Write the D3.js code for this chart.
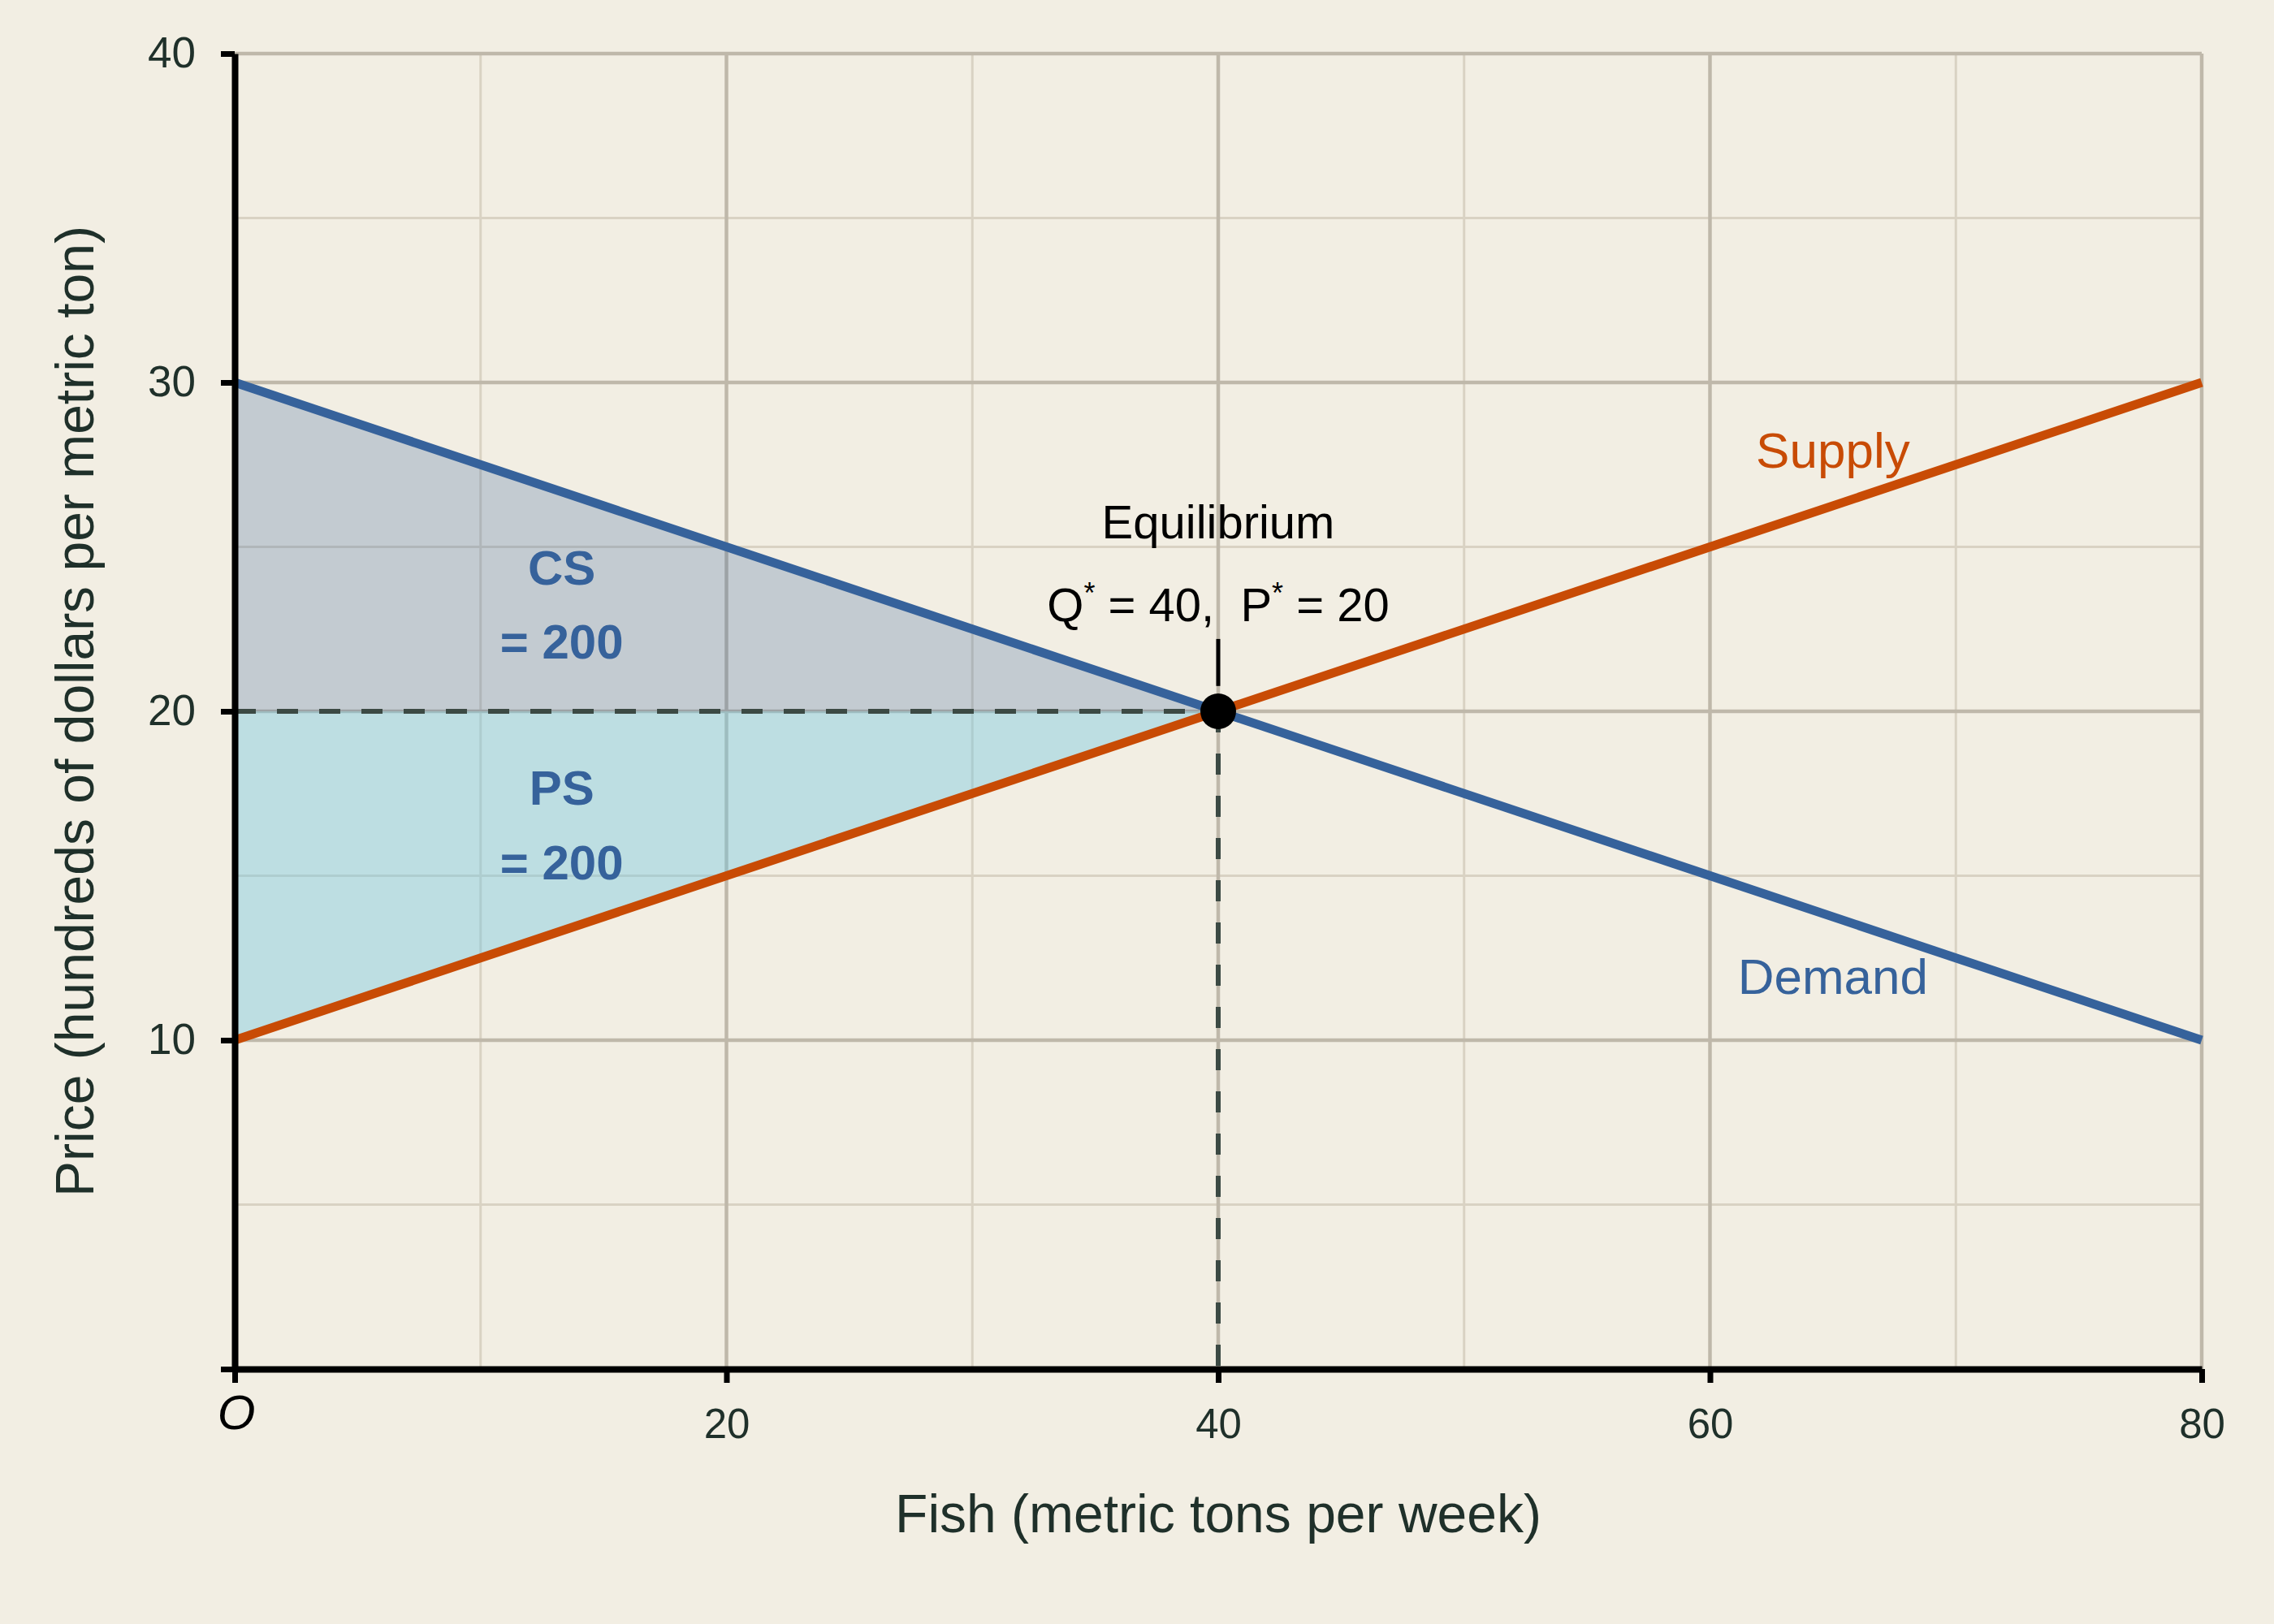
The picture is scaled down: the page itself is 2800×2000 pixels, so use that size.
<!DOCTYPE html>
<html lang="en">
<head>
    <meta charset="UTF-8">
    <title>Fish market equilibrium</title>
    <script src="https://d3js.org/d3.v7.min.js"></script>
    <style>
        body { margin: 0; background: #f2eee3; }
        text { font-family: "Liberation Sans", Arial, Helvetica, sans-serif; }
        .grid-major { stroke: #bfb8aa; stroke-width: 4.5; }
        .grid-minor { stroke: #d9d2c3; stroke-width: 3; }
        .axis path, .axis line { stroke: #000; }
        .axis path { stroke-width: 8; }
        .axis line { stroke-width: 7; }
        .axis text { fill: #1f302a; }
    </style>
</head>
<body>
<script>
    // chart data
    const xTicks = [0, 20, 40, 60, 80];
    const xMinorTicks = [10, 30, 50, 70];
    const yTicks = [0, 10, 20, 30, 40];
    const yMinorTicks = [5, 15, 25, 35];

    const demand = [{ q: 0, p: 30 }, { q: 80, p: 10 }];
    const supply = [{ q: 0, p: 10 }, { q: 80, p: 30 }];
    const equilibrium = { q: 40, p: 20 };

    const csArea = [{ q: 0, p: 30 }, { q: 40, p: 20 }, { q: 0, p: 20 }];
    const psArea = [{ q: 0, p: 20 }, { q: 40, p: 20 }, { q: 0, p: 10 }];
    const surplusValues = [200, 200];

    const svgWidth = 2800;
    const svgHeight = 2000;

    const svg = d3.select("body").append("svg")
        .attr("width", svgWidth)
        .attr("height", svgHeight);

    svg.append("rect")
        .attr("width", svgWidth)
        .attr("height", svgHeight)
        .attr("fill", "#f2eee3");

    const x = d3.scaleLinear().domain([0, 80]).range([289, 2711]);
    const y = d3.scaleLinear().domain([0, 40]).range([1686, 66]);

    // grid
    const grid = svg.append("g");
    grid.selectAll(".vminor").data(xMinorTicks).enter().append("line")
        .attr("class", "grid-minor")
        .attr("x1", d => x(d)).attr("x2", d => x(d))
        .attr("y1", y(0)).attr("y2", y(40));
    grid.selectAll(".hminor").data(yMinorTicks).enter().append("line")
        .attr("class", "grid-minor")
        .attr("x1", x(0)).attr("x2", x(80))
        .attr("y1", d => y(d)).attr("y2", d => y(d));
    grid.selectAll(".vmajor").data(xTicks.slice(1)).enter().append("line")
        .attr("class", "grid-major")
        .attr("x1", d => x(d)).attr("x2", d => x(d))
        .attr("y1", y(0)).attr("y2", y(40));
    grid.selectAll(".hmajor").data(yTicks.slice(1)).enter().append("line")
        .attr("class", "grid-major")
        .attr("x1", x(0)).attr("x2", x(80))
        .attr("y1", d => y(d)).attr("y2", d => y(d));

    // surplus areas
    const poly = d3.line().x(d => x(d.q)).y(d => y(d.p));
    svg.append("path")
        .attr("d", poly(csArea) + "Z")
        .attr("fill", "#36629b")
        .attr("fill-opacity", 0.25);
    svg.append("path")
        .attr("d", poly(psArea) + "Z")
        .attr("fill", "#6fc6e2")
        .attr("fill-opacity", 0.4);

    // dashed guides to the axes
    svg.append("line")
        .attr("x1", x(0)).attr("x2", x(equilibrium.q))
        .attr("y1", y(equilibrium.p)).attr("y2", y(equilibrium.p))
        .attr("stroke", "#3c4a44").attr("stroke-width", 6)
        .attr("stroke-dasharray", "26,26");
    svg.append("line")
        .attr("x1", x(equilibrium.q)).attr("x2", x(equilibrium.q))
        .attr("y1", y(equilibrium.p)).attr("y2", y(0))
        .attr("stroke", "#3c4a44").attr("stroke-width", 6)
        .attr("stroke-dasharray", "26,26");

    // curves
    svg.append("path")
        .attr("d", poly(demand))
        .attr("fill", "none")
        .attr("stroke", "#36629b")
        .attr("stroke-width", 11);
    svg.append("path")
        .attr("d", poly(supply))
        .attr("fill", "none")
        .attr("stroke", "#c84b05")
        .attr("stroke-width", 11);

    // axes
    const yAxis = d3.axisLeft(y)
        .tickValues(yTicks)
        .tickSize(17)
        .tickSizeOuter(0)
        .tickPadding(31)
        .tickFormat(d => d === 0 ? "" : d);
    svg.append("g")
        .attr("class", "axis")
        .attr("transform", `translate(${x(0)},0)`)
        .call(yAxis)
        .selectAll("text")
        .style("font-size", "53px");

    const xAxis = d3.axisBottom(x)
        .tickValues(xTicks)
        .tickSize(17)
        .tickSizeOuter(0)
        .tickPadding(32)
        .tickFormat(d => d === 0 ? "" : d);
    svg.append("g")
        .attr("class", "axis")
        .attr("transform", `translate(0,${y(0)})`)
        .call(xAxis)
        .selectAll("text")
        .style("font-size", "51px");

    svg.append("text")
        .attr("x", x(0) + 2)
        .attr("y", 1760)
        .attr("text-anchor", "middle")
        .style("font-size", "60px")
        .style("font-style", "italic")
        .attr("fill", "#000")
        .text("O");

    // axis titles
    svg.append("text")
        .attr("x", (x(0) + x(80)) / 2)
        .attr("y", 1887)
        .attr("text-anchor", "middle")
        .style("font-size", "66px")
        .attr("fill", "#1f302a")
        .text("Fish (metric tons per week)");

    svg.append("text")
        .attr("transform", `translate(115,${(y(0) + y(40)) / 2}) rotate(-90)`)
        .attr("text-anchor", "middle")
        .style("font-size", "66px")
        .attr("fill", "#1f302a")
        .text("Price (hundreds of dollars per metric ton)");

    // equilibrium marker
    svg.append("line")
        .attr("x1", x(equilibrium.q)).attr("x2", x(equilibrium.q))
        .attr("y1", y(22.2)).attr("y2", y(20.77))
        .attr("stroke", "#000").attr("stroke-width", 5);
    svg.append("circle")
        .attr("cx", x(equilibrium.q))
        .attr("cy", y(equilibrium.p))
        .attr("r", 22)
        .attr("fill", "#000");

    svg.append("text")
        .attr("x", x(equilibrium.q))
        .attr("y", y(25.26))
        .attr("text-anchor", "middle")
        .style("font-size", "58px")
        .attr("fill", "#000")
        .text("Equilibrium");

    const eqText = svg.append("text")
        .attr("x", x(equilibrium.q))
        .attr("y", y(22.74))
        .attr("text-anchor", "middle")
        .style("font-size", "58px")
        .style("white-space", "pre")
        .attr("fill", "#000");
    eqText.append("tspan").text("Q");
    eqText.append("tspan").attr("dy", -22).style("font-size", "36px").text("*");
    eqText.append("tspan").attr("dy", 22).text(` = ${equilibrium.q},  P`);
    eqText.append("tspan").attr("dy", -22).style("font-size", "36px").text("*");
    eqText.append("tspan").attr("dy", 22).text(` = ${equilibrium.p}`);

    // curve labels
    svg.append("text")
        .attr("x", x(65)).attr("y", y(27.4))
        .attr("text-anchor", "middle")
        .style("font-size", "62px")
        .attr("fill", "#c84b05")
        .text("Supply");
    svg.append("text")
        .attr("x", x(65)).attr("y", y(11.4))
        .attr("text-anchor", "middle")
        .style("font-size", "62px")
        .attr("fill", "#36629b")
        .text("Demand");

    // surplus labels
    const surplusLabels = [
        { name: "CS", value: surplusValues[0], top: 23.85, bottom: 21.6 },
        { name: "PS", value: surplusValues[1], top: 17.16, bottom: 14.9 }
    ];
    surplusLabels.forEach(s => {
        svg.append("text")
            .attr("x", x(13.3)).attr("y", y(s.top))
            .attr("text-anchor", "middle")
            .style("font-size", "60px")
            .style("font-weight", "bold")
            .attr("fill", "#36629b")
            .text(s.name);
        svg.append("text")
            .attr("x", x(13.3)).attr("y", y(s.bottom))
            .attr("text-anchor", "middle")
            .style("font-size", "60px")
            .style("font-weight", "bold")
            .attr("fill", "#36629b")
            .text(`= ${s.value}`);
    });
</script>
</body>
</html>
